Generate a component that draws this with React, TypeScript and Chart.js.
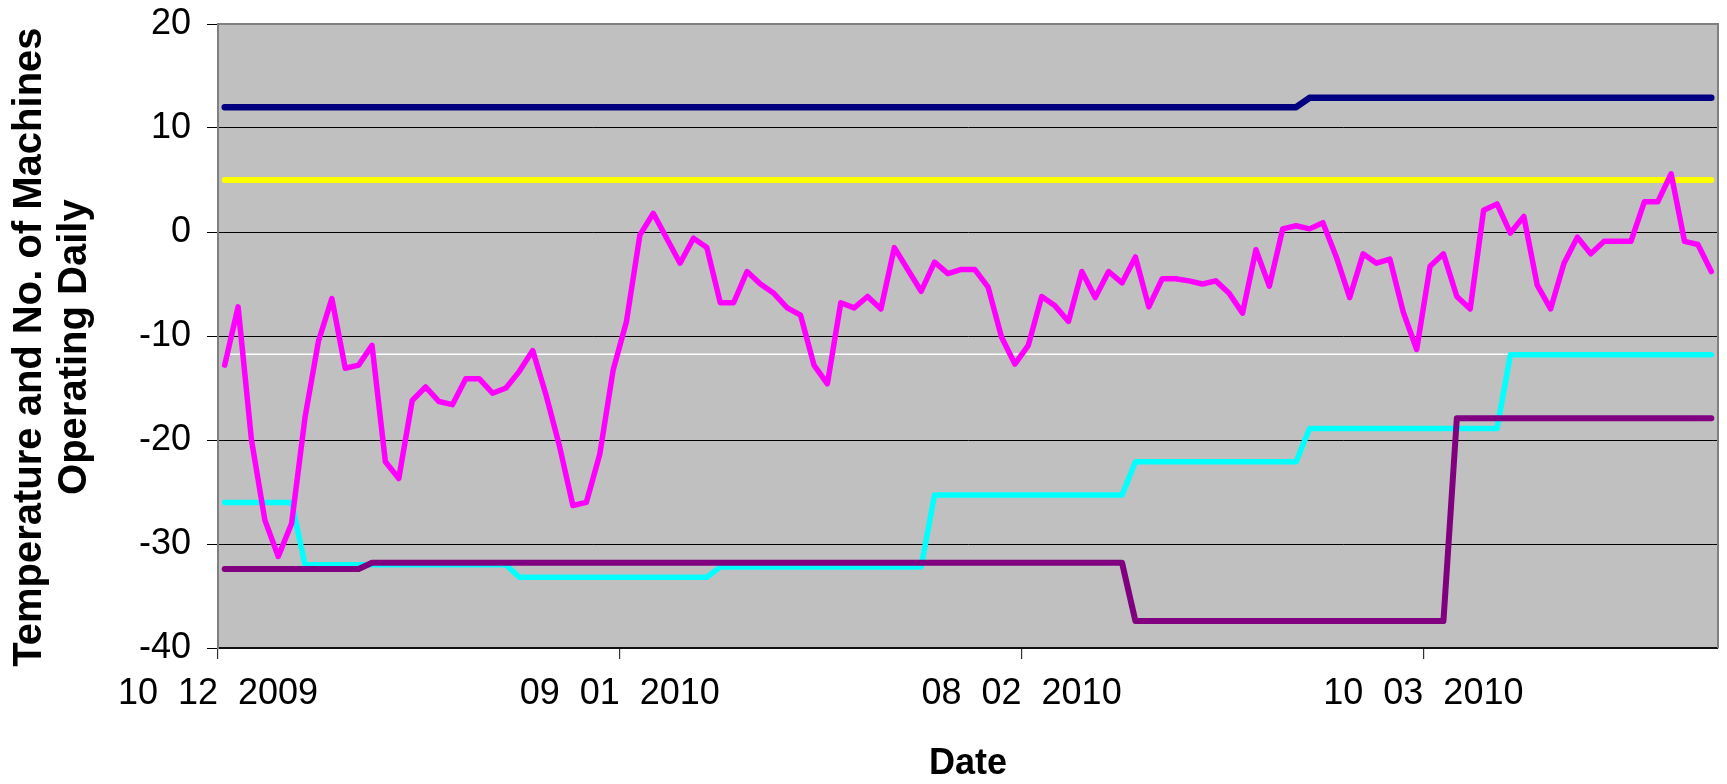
import React, { useEffect, useRef } from "react";
import { Chart, registerables } from "chart.js";

Chart.register(...registerables);

// ---- categories: one per day, starting 10 Dec 2009 ----
const startYear = 2009;
const startMonthIndex = 11;
const startDay = 10;
const dayCount = 112;
const categories: string[] = Array.from({ length: dayCount }, (_, i) => {
  const d = new Date(startYear, startMonthIndex, startDay + i);
  const dd = String(d.getDate()).padStart(2, "0");
  const mm = String(d.getMonth() + 1).padStart(2, "0");
  return `${dd}  ${mm}  ${d.getFullYear()}`;
});

// ---- y axis ticks ----
const yMin = -40;
const yMax = 20;
const yStep = 10;
const xTickEvery = 30;

// ---- series ----
const temperature = [
  -12.8, -7.2, -20.0, -27.7, -31.2, -28.0, -17.8, -10.5, -6.4, -13.1, -12.8, -10.9, -22.1, -23.7, -16.2, -14.9,
  -16.3, -16.6, -14.1, -14.1, -15.5, -15.0, -13.4, -11.4, -15.7, -20.6, -26.3, -26.0, -21.4, -13.3, -8.6, -0.3,
  1.8, -0.6, -3.0, -0.6, -1.5, -6.8, -6.8, -3.8, -5.0, -5.9, -7.3, -8.0, -12.8, -14.6,
  -6.8, -7.3, -6.2, -7.4, -1.5, -3.6, -5.7, -2.9, -4.0, -3.6, -3.6, -5.3, -10.1, -12.7, -10.9, -6.2,
  -7.1, -8.6, -3.8, -6.3, -3.8, -4.9, -2.4, -7.2, -4.5, -4.5, -4.7, -5.0, -4.7, -5.9, -7.8, -1.7,
  -5.2, 0.3, 0.6, 0.3, 0.9, -2.4, -6.3, -2.1, -3.0, -2.6, -7.7, -11.3, -3.3, -2.1, -6.2, -7.4,
  2.1, 2.7, -0.1, 1.5, -5.1, -7.4, -3.0, -0.5, -2.1, -0.9, -0.9, -0.9, 2.9, 2.9, 5.6, -0.9,
  -1.2, -3.8,
];

const navySeries = [
  12, 12, 12, 12, 12, 12, 12, 12, 12, 12, 12, 12, 12, 12, 12, 12,
  12, 12, 12, 12, 12, 12, 12, 12, 12, 12, 12, 12, 12, 12, 12, 12,
  12, 12, 12, 12, 12, 12, 12, 12, 12, 12, 12, 12, 12, 12, 12, 12,
  12, 12, 12, 12, 12, 12, 12, 12, 12, 12, 12, 12, 12, 12, 12, 12,
  12, 12, 12, 12, 12, 12, 12, 12, 12, 12, 12, 12, 12, 12, 12, 12,
  12, 12.9, 12.9, 12.9, 12.9, 12.9, 12.9, 12.9, 12.9, 12.9, 12.9, 12.9, 12.9, 12.9, 12.9, 12.9,
  12.9, 12.9, 12.9, 12.9, 12.9, 12.9, 12.9, 12.9, 12.9, 12.9, 12.9, 12.9, 12.9, 12.9, 12.9, 12.9,
];

const yellowSeries = [
  5, 5, 5, 5, 5, 5, 5, 5, 5, 5, 5, 5, 5, 5, 5, 5,
  5, 5, 5, 5, 5, 5, 5, 5, 5, 5, 5, 5, 5, 5, 5, 5,
  5, 5, 5, 5, 5, 5, 5, 5, 5, 5, 5, 5, 5, 5, 5, 5,
  5, 5, 5, 5, 5, 5, 5, 5, 5, 5, 5, 5, 5, 5, 5, 5,
  5, 5, 5, 5, 5, 5, 5, 5, 5, 5, 5, 5, 5, 5, 5, 5,
  5, 5, 5, 5, 5, 5, 5, 5, 5, 5, 5, 5, 5, 5, 5, 5,
  5, 5, 5, 5, 5, 5, 5, 5, 5, 5, 5, 5, 5, 5, 5, 5,
];

const whiteSeries = [
  -11.75, -11.75, -11.75, -11.75, -11.75, -11.75, -11.75, -11.75, -11.75, -11.75, -11.75, -11.75, -11.75, -11.75, -11.75, -11.75,
  -11.75, -11.75, -11.75, -11.75, -11.75, -11.75, -11.75, -11.75, -11.75, -11.75, -11.75, -11.75, -11.75, -11.75, -11.75, -11.75,
  -11.75, -11.75, -11.75, -11.75, -11.75, -11.75, -11.75, -11.75, -11.75, -11.75, -11.75, -11.75, -11.75, -11.75, -11.75, -11.75,
  -11.75, -11.75, -11.75, -11.75, -11.75, -11.75, -11.75, -11.75, -11.75, -11.75, -11.75, -11.75, -11.75, -11.75, -11.75, -11.75,
  -11.75, -11.75, -11.75, -11.75, -11.75, -11.75, -11.75, -11.75, -11.75, -11.75, -11.75, -11.75, -11.75, -11.75, -11.75, -11.75,
  -11.75, -11.75, -11.75, -11.75, -11.75, -11.75, -11.75, -11.75, -11.75, -11.75, -11.75, -11.75, -11.75, -11.75, -11.75, -11.75,
  -11.75, -11.75, -11.75, -11.75, -11.75, -11.75, -11.75, -11.75, -11.75, -11.75, -11.75, -11.75, -11.75, -11.75, -11.75, -11.75,
];

const cyanSeries = [
  -26, -26, -26, -26, -26, -26, -32, -32, -32, -32, -32, -32, -32, -32, -32, -32,
  -32, -32, -32, -32, -32, -32, -33.2, -33.2, -33.2, -33.2, -33.2, -33.2, -33.2, -33.2, -33.2, -33.2,
  -33.2, -33.2, -33.2, -33.2, -33.2, -32.2, -32.2, -32.2, -32.2, -32.2, -32.2, -32.2, -32.2, -32.2, -32.2, -32.2,
  -32.2, -32.2, -32.2, -32.2, -32.2, -25.3, -25.3, -25.3, -25.3, -25.3, -25.3, -25.3, -25.3, -25.3, -25.3, -25.3,
  -25.3, -25.3, -25.3, -25.3, -22.1, -22.1, -22.1, -22.1, -22.1, -22.1, -22.1, -22.1, -22.1, -22.1, -22.1, -22.1,
  -22.1, -18.9, -18.9, -18.9, -18.9, -18.9, -18.9, -18.9, -18.9, -18.9, -18.9, -18.9, -18.9, -18.9, -18.9, -18.9,
  -11.8, -11.8, -11.8, -11.8, -11.8, -11.8, -11.8, -11.8, -11.8, -11.8, -11.8, -11.8, -11.8, -11.8, -11.8, -11.8,
];

const purpleSeries = [
  -32.4, -32.4, -32.4, -32.4, -32.4, -32.4, -32.4, -32.4, -32.4, -32.4, -32.4, -31.8, -31.8, -31.8, -31.8, -31.8,
  -31.8, -31.8, -31.8, -31.8, -31.8, -31.8, -31.8, -31.8, -31.8, -31.8, -31.8, -31.8, -31.8, -31.8, -31.8, -31.8,
  -31.8, -31.8, -31.8, -31.8, -31.8, -31.8, -31.8, -31.8, -31.8, -31.8, -31.8, -31.8, -31.8, -31.8, -31.8, -31.8,
  -31.8, -31.8, -31.8, -31.8, -31.8, -31.8, -31.8, -31.8, -31.8, -31.8, -31.8, -31.8, -31.8, -31.8, -31.8, -31.8,
  -31.8, -31.8, -31.8, -31.8, -37.4, -37.4, -37.4, -37.4, -37.4, -37.4, -37.4, -37.4, -37.4, -37.4, -37.4, -37.4,
  -37.4, -37.4, -37.4, -37.4, -37.4, -37.4, -37.4, -37.4, -37.4, -37.4, -37.4, -37.4, -17.9, -17.9, -17.9, -17.9,
  -17.9, -17.9, -17.9, -17.9, -17.9, -17.9, -17.9, -17.9, -17.9, -17.9, -17.9, -17.9, -17.9, -17.9, -17.9, -17.9,
];

const yTitleLines = ["Temperature and No. of Machines  ", "Operating Daily  "];
const xTitle = "Date";

const FONT = "'Liberation Sans', Arial, Helvetica, sans-serif";

// points sit in the middle of each day's slot
const toPoints = (values: number[]) => values.map((y, i) => ({ x: i + 0.5, y }));

const plotFrame = {
  id: "plotFrame",
  beforeDraw(chart: any) {
    const { ctx, chartArea: a } = chart;
    ctx.save();
    ctx.fillStyle = "#C0C0C0";
    ctx.fillRect(a.left, a.top, a.right - a.left, a.bottom - a.top);
    ctx.restore();
  },
  beforeDatasetsDraw(chart: any) {
    const { ctx, chartArea: a } = chart;
    ctx.save();
    ctx.strokeStyle = "#808080";
    ctx.lineWidth = 2;
    ctx.beginPath();
    ctx.moveTo(a.left, a.top);
    ctx.lineTo(a.right, a.top);
    ctx.lineTo(a.right, a.bottom);
    ctx.stroke();
    ctx.restore();
  },
};

export default function App() {
  const canvasRef = useRef<HTMLCanvasElement>(null);

  useEffect(() => {
    const canvas = canvasRef.current;
    if (!canvas) return;
    Chart.defaults.font.family = FONT;

    const line = (label: string, data: number[], color: string, width: number) => ({
      label,
      data: toPoints(data),
      borderColor: color,
      backgroundColor: color,
      borderWidth: width,
      pointRadius: 0,
      tension: 0,
      fill: false,
      borderJoinStyle: "round" as const,
      borderCapStyle: "round" as const,
    });

    const chart = new Chart(canvas, {
      type: "line",
      data: {
        datasets: [
          line("Temperature", temperature, "#FF00FF", 5.5),
          line("Series 5", purpleSeries, "#800080", 6),
          line("Series 4", cyanSeries, "#00FFFF", 5.5),
          line("Series 2", navySeries, "#000080", 6.5),
          line("Series 3", yellowSeries, "#FFFF00", 6),
          line("Series 6", whiteSeries, "#FFFFFF", 1.5),
        ],
      },
      options: {
        responsive: false,
        animation: false,
        events: [],
        layout: { padding: { top: 24, right: 9, left: 0, bottom: 0 } },
        plugins: {
          legend: { display: false },
          tooltip: { enabled: false },
          title: { display: false },
        },
        scales: {
          x: {
            type: "linear",
            min: 0,
            max: dayCount,
            ticks: {
              stepSize: xTickEvery,
              includeBounds: false,
              autoSkip: false,
              maxRotation: 0,
              minRotation: 0,
              color: "#000",
              padding: 13,
              font: { family: FONT, size: 36 },
              callback: (v: any) => categories[Number(v)] ?? "",
            },
            grid: {
              drawOnChartArea: false,
              drawTicks: true,
              tickLength: 11,
              color: "#333",
              lineWidth: 1.2,
            },
            border: { display: true, color: "#111", width: 2 },
            title: {
              display: true,
              text: xTitle,
              color: "#000",
              font: { family: FONT, size: 36, weight: "bold", lineHeight: 1 },
              padding: { top: 0, bottom: 2 },
            },
            afterFit: (scale: any) => {
              scale.height = 136;
            },
          },
          y: {
            min: yMin,
            max: yMax,
            ticks: {
              stepSize: yStep,
              color: "#000",
              padding: 16,
              font: { family: FONT, size: 36, lineHeight: 0.4 },
            },
            grid: {
              color: "#000",
              lineWidth: 1,
              drawTicks: true,
              tickLength: 11,
            },
            border: { display: true, color: "#808080", width: 2 },
            title: {
              display: true,
              text: yTitleLines,
              color: "#000",
              font: { family: FONT, size: 40, weight: "bold", lineHeight: 1.125 },
              padding: { top: 7, bottom: 0 },
            },
            afterFit: (scale: any) => {
              scale.width = 218;
            },
          },
        },
      },
      plugins: [plotFrame],
    });

    return () => chart.destroy();
  }, []);

  return (
    <div style={{ position: "fixed", left: 0, top: 0, width: 1727, height: 784, background: "#fff" }}>
      <canvas ref={canvasRef} width={1727} height={784} style={{ display: "block" }} />
    </div>
  );
}
